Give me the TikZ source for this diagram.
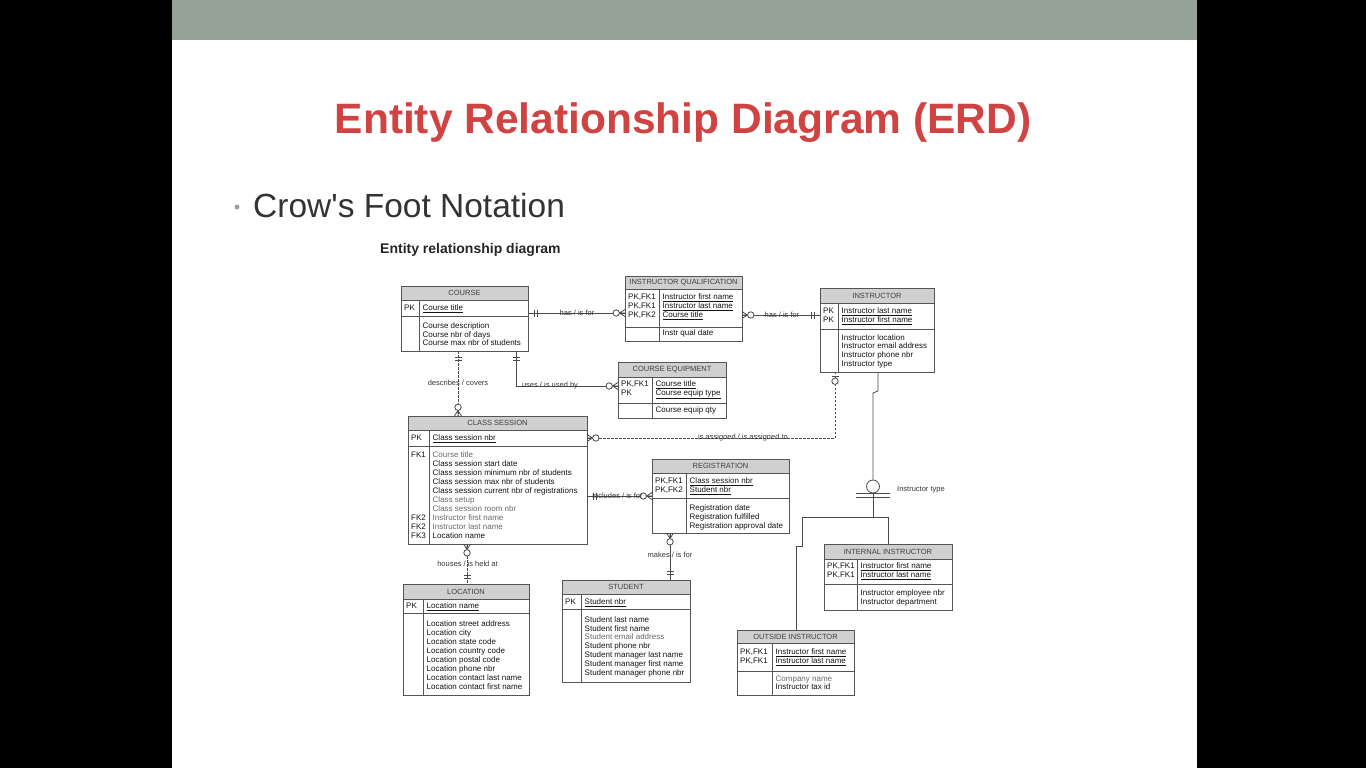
\documentclass[tikz,border=0pt]{standalone}
\usepackage{fontspec}
\setmainfont{Liberation Sans}
\usetikzlibrary{calc}

\definecolor{slidebar}{HTML}{96A297}
\definecolor{titlered}{HTML}{CF4442}
\definecolor{bullettxt}{HTML}{333333}
\definecolor{bulletdot}{HTML}{A0A0A0}
\definecolor{hdrfill}{HTML}{D0D0D0}
\definecolor{boxline}{HTML}{555555}
\definecolor{linkline}{HTML}{4A4A4A}
\definecolor{txtdark}{HTML}{141414}
\definecolor{txtlight}{HTML}{6A6A6A}

\tikzset{
  tbox/.style={draw=boxline, line width=1pt, fill=white, inner sep=0pt, outer sep=0pt, anchor=north west},
  thead/.style={font=\fontsize{7.5}{8}\selectfont, text=black!75, inner sep=0pt},
  ktxt/.style={font=\fontsize{8}{9}\selectfont, text=txtdark, inner sep=0pt, anchor=base west},
  atxt/.style={ktxt},
  ltxt/.style={ktxt, text=txtlight},
  link/.style={draw=linkline, line width=0.8pt},
  dlink/.style={link, dash pattern=on 2.5pt off 1.5pt},
  lbl/.style={font=\fontsize{7.5}{8}\selectfont, text=txtdark!85, inner sep=0pt},
  % cardinality marks, drawn with the entity at the origin and the link along +x
  pics/onlyone/.style={code={\draw[link] (6,-3.5)--(6,3.5) (9,-3.5)--(9,3.5);}},
  pics/zeromany/.style={code={\draw[link] (0,3.5)--(5.5,0)--(0,-3.5) (0,0)--(5.5,0);
      \draw[link, fill=white] (8.8,0) circle[radius=3.2pt];}},
  pics/zeroone/.style={code={\draw[link] (4,-3.5)--(4,3.5);
      \draw[link, fill=white] (9.2,0) circle[radius=3.2pt];}},
}

% entity table: name, left, top, right, bottom, header bottom, key bottom, divider x, title
\newcommand\erdbox[9]{%
  \node[tbox, minimum width={(#4-#2)*1pt}, minimum height={(#5-#3)*1pt}] (#1) at (#2,#3) {};
  \fill[hdrfill] (#2,#3) rectangle (#4,#6);
  \draw[draw=boxline, line width=1pt] (#2,#6) -- (#4,#6) (#2,#7) -- (#4,#7) (#8,#6) -- (#8,#5)
     (#1.north west) rectangle (#1.south east);
  \node[thead] (#1-title) at ({(#2+#4)/2},{(#3+#6)/2}) {#9};
}
\newcounter{cellno}
% key column entry: table left, row y, text
\newcommand\erdkey[3]{\stepcounter{cellno}\node[ktxt] (cell\arabic{cellno}) at ({#1+3},{#2+2.8}) {#3};}
% attribute entry: [style], divider x, row y, text
\newcommand\erdatt[4][atxt]{\stepcounter{cellno}\node[#1] (cell\arabic{cellno}) at ({#2+3.5},{#3+2.8}) {#4};}

\begin{document}
\begin{tikzpicture}[x=1pt,y=-1pt]
\useasboundingbox (0,0) rectangle (1366,768);
\fill[black] (0,0) rectangle (1366,768);
\fill[white] (172,0) rectangle (1197,768);
\fill[slidebar] (172,0) rectangle (1197,40);

% slide headings
\node[font=\fontsize{42.5}{50}\selectfont\bfseries, text=titlered, anchor=base, inner sep=0] (title) at (683,133) {Entity Relationship Diagram (ERD)};
\node[circle, fill=bulletdot, minimum size=5pt, inner sep=0] (bullet) at (237,207) {};
\node[anchor=base west, font=\fontsize{33.5}{40}\selectfont, text=bullettxt, inner sep=0] (subtitle) at (253,217) {Crow\textquotesingle s Foot Notation};
\node[anchor=base west, font=\fontsize{14}{16}\selectfont\bfseries, text=black!85, inner sep=0] (caption) at (380,253) {Entity relationship diagram};

% ---------- entities ----------
\erdbox{course}{401}{286}{528}{351}{300}{316}{419}{COURSE}
\erdkey{401}{308}{PK} \erdatt{419}{308}{\underline{Course title}}
\erdatt{419}{326}{Course description}
\erdatt{419}{334.5}{Course nbr of days}
\erdatt{419}{343}{Course max nbr of students}

\erdbox{iq}{625}{276}{742}{341}{289}{327}{659}{INSTRUCTOR QUALIFICATION}
\erdkey{625}{297}{PK,FK1} \erdatt{659}{297}{\underline{Instructor first name}}
\erdkey{625}{306}{PK,FK1} \erdatt{659}{306}{\underline{Instructor last name}}
\erdkey{625}{315}{PK,FK2} \erdatt{659}{315}{\underline{Course title}}
\erdatt{659}{333}{Instr qual date}

\erdbox{instr}{820}{288}{934}{372}{303}{329}{838}{INSTRUCTOR}
\erdkey{820}{311}{PK} \erdatt{838}{311}{\underline{Instructor last name}}
\erdkey{820}{319.5}{PK} \erdatt{838}{319.5}{\underline{Instructor first name}}
\erdatt{838}{337.5}{Instructor location}
\erdatt{838}{346}{Instructor email address}
\erdatt{838}{355}{Instructor phone nbr}
\erdatt{838}{364}{Instructor type}

\erdbox{ceq}{618}{362}{726}{418}{377}{403}{652}{COURSE EQUIPMENT}
\erdkey{618}{384}{PK,FK1} \erdatt{652}{384}{\underline{Course title}}
\erdkey{618}{392.5}{PK} \erdatt{652}{392.5}{\underline{Course equip type}}
\erdatt{652}{410}{Course equip qty}

\erdbox{cs}{408}{416}{587}{544}{430}{446}{429}{CLASS SESSION}
\erdkey{408}{437.5}{PK} \erdatt{429}{437.5}{\underline{Class session nbr}}
\erdkey{408}{455}{FK1} \erdatt[ltxt]{429}{455}{Course title}
\erdatt{429}{464}{Class session start date}
\erdatt{429}{473}{Class session minimum nbr of students}
\erdatt{429}{482}{Class session max nbr of students}
\erdatt{429}{491}{Class session current nbr of registrations}
\erdatt[ltxt]{429}{500}{Class setup}
\erdatt[ltxt]{429}{509}{Class session room nbr}
\erdkey{408}{518}{FK2} \erdatt[ltxt]{429}{518}{Instructor first name}
\erdkey{408}{527}{FK2} \erdatt[ltxt]{429}{527}{Instructor last name}
\erdkey{408}{536}{FK3} \erdatt{429}{536}{Location name}

\erdbox{reg}{652}{459}{789}{533}{473}{498}{686}{REGISTRATION}
\erdkey{652}{481}{PK,FK1} \erdatt{686}{481}{\underline{Class session nbr}}
\erdkey{652}{490}{PK,FK2} \erdatt{686}{490}{\underline{Student nbr}}
\erdatt{686}{508}{Registration date}
\erdatt{686}{517}{Registration fulfilled}
\erdatt{686}{525.5}{Registration approval date}

\erdbox{loc}{403}{584}{529}{695}{599}{613}{423}{LOCATION}
\erdkey{403}{606}{PK} \erdatt{423}{606}{\underline{Location name}}
\erdatt{423}{624}{Location street address}
\erdatt{423}{633}{Location city}
\erdatt{423}{642}{Location state code}
\erdatt{423}{651}{Location country code}
\erdatt{423}{660}{Location postal code}
\erdatt{423}{669}{Location phone nbr}
\erdatt{423}{678}{Location contact last name}
\erdatt{423}{687}{Location contact first name}

\erdbox{stud}{562}{580}{690}{682}{594}{609}{581}{STUDENT}
\erdkey{562}{601.5}{PK} \erdatt{581}{601.5}{\underline{Student nbr}}
\erdatt{581}{620}{Student last name}
\erdatt{581}{628.5}{Student first name}
\erdatt[ltxt]{581}{637}{Student email address}
\erdatt{581}{646}{Student phone nbr}
\erdatt{581}{655}{Student manager last name}
\erdatt{581}{664}{Student manager first name}
\erdatt{581}{673}{Student manager phone nbr}

\erdbox{intinstr}{824}{544}{952}{610}{559}{584}{857}{INTERNAL INSTRUCTOR}
\erdkey{824}{566}{PK,FK1} \erdatt{857}{566}{\underline{Instructor first name}}
\erdkey{824}{575}{PK,FK1} \erdatt{857}{575}{\underline{Instructor last name}}
\erdatt{857}{593}{Instructor employee nbr}
\erdatt{857}{602}{Instructor department}

\erdbox{outinstr}{737}{630}{854}{695}{643}{671}{772}{OUTSIDE INSTRUCTOR}
\erdkey{737}{652}{PK,FK1} \erdatt{772}{652}{\underline{Instructor first name}}
\erdkey{737}{661}{PK,FK1} \erdatt{772}{661}{\underline{Instructor last name}}
\erdatt[ltxt]{772}{678.5}{Company name}
\erdatt{772}{687}{Instructor tax id}

% ---------- link lanes ----------
\coordinate (laneA) at (458,0);
\coordinate (laneB) at (516,0);
\coordinate (laneC) at (835,0);
\coordinate (laneD) at (670,0);
\coordinate (laneE) at (467,0);
\coordinate (laneF) at (878,0);
\coordinate (laneH) at (888,0);
\coordinate (laneJ) at (796,0);
\coordinate (rowA) at (0,313);
\coordinate (rowB) at (0,315);
\coordinate (rowC) at (0,386);
\coordinate (rowD) at (0,438);
\coordinate (rowE) at (0,496);

% COURSE -- INSTRUCTOR QUALIFICATION
\draw[link] (course.east |- rowA) -- (iq.west |- rowA);
\pic at (course.east |- rowA) {onlyone};
\pic[rotate=180] at (iq.west |- rowA) {zeromany};
\node[lbl] (lab1) at (577,313) {has / is for};

% INSTRUCTOR QUALIFICATION -- INSTRUCTOR
\draw[link] (iq.east |- rowB) -- (instr.west |- rowB);
\pic at (iq.east |- rowB) {zeromany};
\pic[rotate=180] at (instr.west |- rowB) {onlyone};
\node[lbl] (lab2) at (782,315) {has / is for};

% COURSE -- CLASS SESSION
\draw[dlink] (course.south -| laneA) -- (cs.north -| laneA);
\pic[rotate=-90] at (course.south -| laneA) {onlyone};
\pic[rotate=90] at (cs.north -| laneA) {zeromany};
\node[lbl] (lab3) at (458,383) {describes / covers};

% COURSE -- COURSE EQUIPMENT
\draw[link] (course.south -| laneB) |- (ceq.west |- rowC);
\pic[rotate=-90] at (course.south -| laneB) {onlyone};
\pic[rotate=180] at (ceq.west |- rowC) {zeromany};
\node[lbl] (lab4) at (550,386) {uses / is used by};

% CLASS SESSION -- INSTRUCTOR
\draw[dlink] (cs.east |- rowD) -| (instr.south -| laneC);
\pic at (cs.east |- rowD) {zeromany};
\pic[rotate=-90] at (instr.south -| laneC) {zeroone};
\node[lbl] (lab5) at (743,438) {is assigned / is assigned to};

% CLASS SESSION -- REGISTRATION
\draw[link] (cs.east |- rowE) -- (reg.west |- rowE);
\pic at (cs.east |- rowE) {onlyone};
\pic[rotate=180] at (reg.west |- rowE) {zeromany};
\node[lbl] (lab6) at (617.5,496) {includes / is for};

% REGISTRATION -- STUDENT
\draw[link] (reg.south -| laneD) -- (stud.north -| laneD);
\pic[rotate=-90] at (reg.south -| laneD) {zeromany};
\pic[rotate=90] at (stud.north -| laneD) {onlyone};
\node[lbl] (lab7) at (670,555) {makes / is for};

% CLASS SESSION -- LOCATION
\draw[dlink] (cs.south -| laneE) -- (loc.north -| laneE);
\pic[rotate=-90] at (cs.south -| laneE) {zeromany};
\pic[rotate=90] at (loc.north -| laneE) {onlyone};
\node[lbl] (lab8) at (467.5,564) {houses / is held at};

% INSTRUCTOR subtypes
\node[circle, draw=linkline, line width=0.8pt, minimum size=13pt, inner sep=0] (disc) at (873,486.5) {};
\draw[link] (instr.south -| laneF) -- (878,391) -- (873,393) -- (disc.north);
\draw[link] (856,493.5) -- (890,493.5) (856,497) -- (890,497);
\draw[link] (disc.south) -- (873,517);
\draw[link] (intinstr.north -| laneH) |- (802,517) -- (802,546) -- (796,546) -- (outinstr.north -| laneJ);
\node[lbl, anchor=west] (disclbl) at (897,490) {Instructor type};
\end{tikzpicture}
\end{document}
